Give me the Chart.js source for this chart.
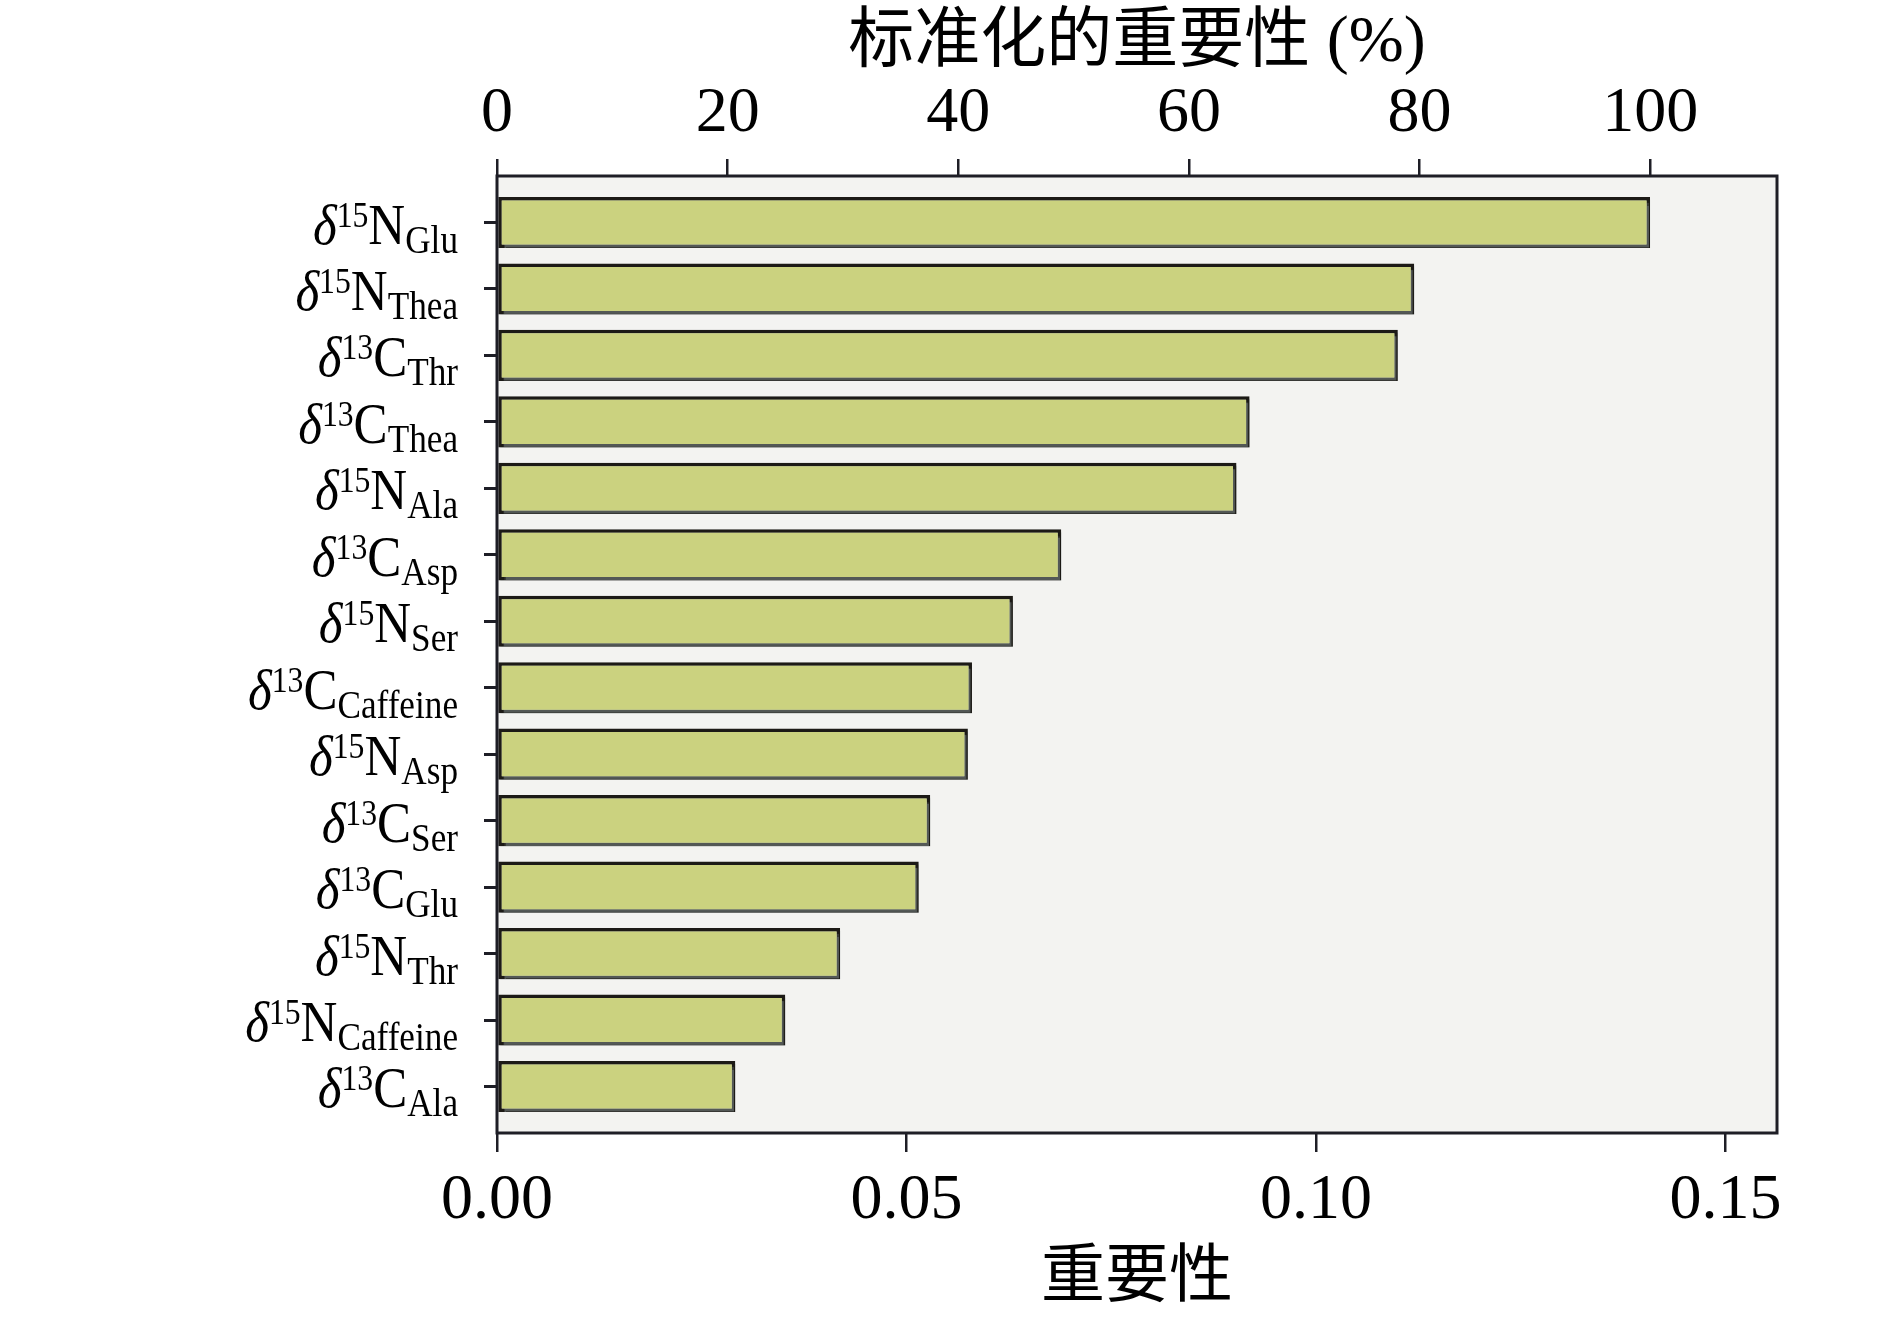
<!DOCTYPE html>
<html>
<head>
<meta charset="utf-8">
<script src="https://cdn.jsdelivr.net/npm/chart.js@4.4.1/dist/chart.umd.min.js"></script>
<style>
  html, body { margin: 0; padding: 0; background: #fff; }
  #wrap { width: 1890px; height: 1318px; }
</style>
</head>
<body>
<div id="wrap"><canvas id="impChart" width="1890" height="1318"></canvas></div>
<script>
// variables, top to bottom: element, isotope, subscript
const elements = ['N', 'N', 'C', 'C', 'N', 'C', 'N', 'C', 'N', 'C', 'C', 'N', 'N', 'C'];
const isotopes = ['15', '15', '13', '13', '15', '13', '15', '13', '15', '13', '13', '15', '15', '13'];
const subscripts = ['Glu', 'Thea', 'Thr', 'Thea', 'Ala', 'Asp', 'Ser', 'Caffeine', 'Asp', 'Ser', 'Glu', 'Thr', 'Caffeine', 'Ala'];
const importance = [0.1408, 0.1120, 0.1100, 0.0919, 0.0903, 0.0689, 0.0630, 0.0580, 0.0575, 0.0529, 0.0515, 0.0419, 0.0352, 0.0291];
const bottomTicks = [0, 0.05, 0.10, 0.15];
const topTicks = [0, 20, 40, 60, 80, 100];

const serif = "'Liberation Serif', 'Times New Roman', 'Noto Sans CJK SC', serif";
const ink = '#1e1e26';

const framePlugin = {
  id: 'frame',
  beforeDatasetsDraw(chart) {
    const { ctx, chartArea: a } = chart;
    ctx.save();
    ctx.fillStyle = '#f3f3f1';
    ctx.fillRect(a.left, a.top, a.right - a.left, a.bottom - a.top);
    ctx.restore();
    ctx.save();
    ctx.shadowColor = 'rgba(130,140,140,0.55)';
    ctx.shadowOffsetX = 2;
    ctx.shadowOffsetY = 3;
    ctx.shadowBlur = 1;
  },
  afterDatasetsDraw(chart) {
    const { ctx, chartArea: a } = chart;
    ctx.restore();
    ctx.save();
    ctx.strokeStyle = ink;
    ctx.lineWidth = 3;
    ctx.strokeRect(a.left, a.top, a.right - a.left, a.bottom - a.top);
    ctx.restore();
  },
  afterDraw(chart) {
    const { ctx } = chart;
    const ys = chart.scales.y;
    ctx.save();
    ctx.fillStyle = '#000';
    ctx.textBaseline = 'alphabetic';
    ctx.textAlign = 'left';
    elements.forEach((el, i) => {
      const yc = ys.getPixelForValue(i);
      const parts = [
        { t: 'δ', f: `italic 58px ${serif}`, dy: 0 },
        { t: isotopes[i], f: `36px ${serif}`, dy: -17 },
        { t: el, f: `58px ${serif}`, dy: 0 },
        { t: subscripts[i], f: `40px ${serif}`, dy: 9 }
      ];
      let w = 0;
      parts.forEach(p => { ctx.font = p.f; p.w = ctx.measureText(p.t).width; w += p.w; });
      ctx.save();
      ctx.translate(458, yc + 21);
      ctx.scale(0.88, 1);
      let x = -w;
      parts.forEach(p => { ctx.font = p.f; ctx.fillText(p.t, x, p.dy); x += p.w; });
      ctx.restore();
    });
    ctx.restore();
  }
};

new Chart(document.getElementById('impChart'), {
  type: 'bar',
  data: {
    datasets: [{
      data: importance.map((v, i) => ({ x: v, y: i })),
      backgroundColor: '#cbd27f',
      borderColor: '#1c1a16',
      borderWidth: 3.5,
      borderSkipped: false,
      categoryPercentage: 1,
      barPercentage: 0.77,
      xAxisID: 'x',
      yAxisID: 'y'
    }]
  },
  options: {
    indexAxis: 'y',
    responsive: false,
    animation: false,
    layout: { padding: { left: 0, right: 113, top: 0, bottom: 0 } },
    plugins: { legend: { display: false }, tooltip: { enabled: false } },
    scales: {
      y: {
        type: 'linear',
        reverse: true,
        offset: false,
        min: -0.7,
        max: 13.7,
        afterBuildTicks: s => { s.ticks = elements.map((_, i) => ({ value: i })); },
        afterFit: s => { s.width = 497; },
        border: { display: false },
        grid: { offset: false, drawOnChartArea: false, drawTicks: true, tickLength: 13, lineWidth: 3, color: ink },
        ticks: { display: false }
      },
      x: {
        type: 'linear',
        position: 'bottom',
        min: 0,
        max: 0.1563,
        afterBuildTicks: s => { s.ticks = bottomTicks.map(v => ({ value: v })); },
        afterFit: s => { s.height = 185; },
        border: { display: false },
        grid: { drawOnChartArea: false, drawTicks: true, tickLength: 19, lineWidth: 2.5, color: ink },
        ticks: {
          padding: 11,
          color: '#000',
          font: { family: serif, size: 64 },
          maxRotation: 0,
          callback: v => Number(v).toFixed(2)
        },
        title: {
          display: true,
          text: '重要性',
          color: '#000',
          font: { family: serif, size: 64 },
          padding: { top: 0, bottom: 0 }
        }
      },
      x2: {
        type: 'linear',
        position: 'top',
        min: 0,
        max: 111.0,
        afterBuildTicks: s => { s.ticks = topTicks.map(v => ({ value: v })); },
        afterFit: s => { s.height = 176; },
        border: { display: false },
        grid: { drawOnChartArea: false, drawTicks: true, tickLength: 17, lineWidth: 2.5, color: ink },
        ticks: {
          padding: 6,
          color: '#000',
          font: { family: serif, size: 64 },
          maxRotation: 0,
          callback: v => String(v)
        },
        title: {
          display: true,
          text: '标准化的重要性 (%)',
          color: '#000',
          font: { family: serif, size: 66 },
          padding: { top: 4, bottom: 0 }
        }
      }
    }
  },
  plugins: [framePlugin]
});
</script>
</body>
</html>
